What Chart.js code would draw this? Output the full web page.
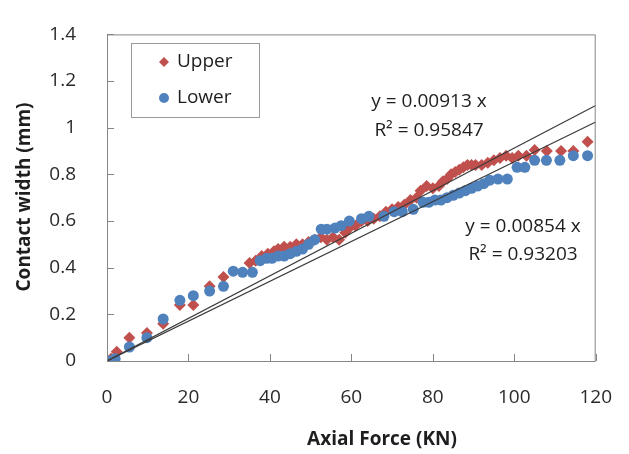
<!DOCTYPE html>
<html>
<head>
<meta charset="utf-8">
<script src="https://cdn.jsdelivr.net/npm/chart.js@4.4.0/dist/chart.umd.min.js"></script>
<style>
  html, body { margin: 0; padding: 0; background: #fff; }
</style>
</head>
<body>
<canvas id="chart" width="629" height="454"></canvas>
<script>
// Upper series (red diamonds)
const upperForce = [0, 1, 2.4, 5.5, 9.8, 13.8, 17.9, 21.2, 25.2, 28.6, 35, 36.5, 38, 39.5, 41, 42, 43.5, 45, 46.5, 48, 49.5, 51, 52.5, 54, 55.5, 57, 58.5, 59.5, 61, 62.5, 64, 65.5, 67, 68.5, 70, 71.5, 73, 74.5, 76, 77, 78.5, 80, 81.5, 82.5, 83.5, 84.5, 85.5, 86.5, 87.5, 88.5, 89.5, 90.5, 92, 93.5, 95, 96.5, 98, 99.5, 101, 103, 105, 108, 111.5, 114.5, 118];
const upperWidth = [0, 0.01, 0.04, 0.10, 0.12, 0.16, 0.24, 0.24, 0.32, 0.36, 0.42, 0.43, 0.45, 0.46, 0.47, 0.48, 0.49, 0.49, 0.50, 0.50, 0.51, 0.52, 0.53, 0.52, 0.53, 0.52, 0.55, 0.57, 0.58, 0.60, 0.60, 0.61, 0.62, 0.64, 0.65, 0.66, 0.67, 0.69, 0.70, 0.73, 0.75, 0.74, 0.75, 0.77, 0.78, 0.80, 0.81, 0.82, 0.83, 0.84, 0.84, 0.84, 0.84, 0.85, 0.86, 0.87, 0.88, 0.87, 0.88, 0.88, 0.905, 0.90, 0.90, 0.90, 0.94];

// Lower series (blue circles)
const lowerForce = [0, 0.5, 1.2, 2, 5.5, 9.8, 13.8, 17.9, 21.2, 25.2, 28.6, 31, 33.3, 35.7, 37.6, 39.2, 40.5, 42, 43.5, 45, 46.5, 48, 49.5, 51, 52.6, 54, 56, 57.5, 59.5, 62.5, 64.3, 68, 70.5, 72.5, 75.2, 77.6, 79, 80.5, 82, 83.5, 85, 86.5, 88, 89.5, 91, 92.5, 94, 96, 98.3, 100.7, 102.6, 105, 107.9, 111.2, 114.5, 118];
const lowerWidth = [0, 0, 0, 0.01, 0.06, 0.10, 0.18, 0.26, 0.28, 0.30, 0.32, 0.385, 0.38, 0.38, 0.43, 0.44, 0.44, 0.45, 0.45, 0.46, 0.47, 0.48, 0.50, 0.52, 0.565, 0.565, 0.57, 0.58, 0.60, 0.61, 0.62, 0.62, 0.64, 0.64, 0.65, 0.68, 0.68, 0.69, 0.69, 0.70, 0.71, 0.72, 0.73, 0.74, 0.75, 0.76, 0.775, 0.78, 0.78, 0.83, 0.83, 0.86, 0.86, 0.86, 0.88, 0.88];

// Linear trendlines through origin
const trendSlopes = [0.00913, 0.00854];
const trendR2 = ['0.95847', '0.93203'];
const xTicks = [0, 20, 40, 60, 80, 100, 120];
const yTicks = [0, 0.2, 0.4, 0.6, 0.8, 1, 1.2, 1.4];

const RED = '#C0504D';
const BLUE = '#4F81BD';
const FONT = '"Open Sans", "Noto Sans", sans-serif';
const TEXT = '#1e1e1e';

const toPoints = (xs, ys) => xs.map((x, i) => ({ x: x, y: ys[i] }));
const xMax = xTicks[xTicks.length - 1];
const trendPoints = slope => [{ x: 0, y: 0 }, { x: xMax, y: slope * xMax }];

// frame, inside tick marks, axis titles, legend and trendline labels
const extras = {
    id: 'extras',
    afterDatasetsDraw(chart) {
        const ctx = chart.ctx;
        const area = chart.chartArea;
        const xs = chart.scales.x;
        const ys = chart.scales.y;
        ctx.save();
        ctx.strokeStyle = '#868686';
        ctx.lineWidth = 1;
        ctx.strokeRect(area.left + 0.5, area.top + 0.5, area.right - area.left - 1, area.bottom - area.top);
        ctx.beginPath();
        yTicks.forEach(v => {
            const py = Math.round(ys.getPixelForValue(v)) + 0.5;
            ctx.moveTo(area.left, py);
            ctx.lineTo(area.left + 7, py);
        });
        xTicks.forEach(v => {
            const px = Math.round(xs.getPixelForValue(v)) + 0.5;
            ctx.moveTo(px, area.bottom);
            ctx.lineTo(px, area.bottom - 7);
        });
        ctx.stroke();

        // axis titles
        ctx.fillStyle = TEXT;
        ctx.font = 'bold 19px ' + FONT;
        ctx.textAlign = 'center';
        ctx.textBaseline = 'middle';
        ctx.fillText('Axial Force (KN)', 382, 440);
        ctx.save();
        ctx.translate(25, 197);
        ctx.rotate(-Math.PI / 2);
        ctx.fillText('Contact width (mm)', 0, 0);
        ctx.restore();

        // legend
        ctx.strokeStyle = '#9a9a9a';
        ctx.strokeRect(131.5, 43.5, 128, 74);
        ctx.fillStyle = RED;
        ctx.beginPath();
        ctx.moveTo(164, 57); ctx.lineTo(169, 62); ctx.lineTo(164, 67); ctx.lineTo(159, 62);
        ctx.closePath();
        ctx.fill();
        ctx.fillStyle = BLUE;
        ctx.beginPath();
        ctx.arc(164, 98, 5, 0, Math.PI * 2);
        ctx.fill();
        ctx.fillStyle = TEXT;
        ctx.font = '19px ' + FONT;
        ctx.textAlign = 'left';
        ctx.fillText('Upper', 177, 62);
        ctx.fillText('Lower', 177, 98);

        // trendline equations
        ctx.textAlign = 'center';
        ctx.fillText('y = ' + trendSlopes[0] + ' x', 429, 102);
        ctx.fillText('R\u00B2 = ' + trendR2[0], 429, 131);
        ctx.fillText('y = ' + trendSlopes[1] + ' x', 523, 227);
        ctx.fillText('R\u00B2 = ' + trendR2[1], 523, 255);
        ctx.restore();
    }
};

const ctx = document.getElementById('chart').getContext('2d');
new Chart(ctx, {
    type: 'scatter',
    data: {
        datasets: [
            {
                label: 'Upper trend',
                type: 'line',
                data: trendPoints(trendSlopes[0]),
                borderColor: '#3c3c3c',
                borderWidth: 1.2,
                pointRadius: 0,
                fill: false,
                order: 0
            },
            {
                label: 'Lower trend',
                type: 'line',
                data: trendPoints(trendSlopes[1]),
                borderColor: '#3c3c3c',
                borderWidth: 1.2,
                pointRadius: 0,
                fill: false,
                order: 0
            },
            {
                label: 'Lower',
                data: toPoints(lowerForce, lowerWidth),
                pointStyle: 'circle',
                pointRadius: 5.5,
                backgroundColor: BLUE,
                borderColor: BLUE,
                borderWidth: 0,
                order: 1
            },
            {
                label: 'Upper',
                data: toPoints(upperForce, upperWidth),
                pointStyle: 'rectRot',
                pointRadius: 6,
                backgroundColor: RED,
                borderColor: RED,
                borderWidth: 0,
                order: 2
            }
        ]
    },
    options: {
        responsive: false,
        animation: false,
        devicePixelRatio: 1,
        layout: { padding: { left: 0, right: 18, top: 19, bottom: 0 } },
        plugins: {
            legend: { display: false },
            tooltip: { enabled: false }
        },
        scales: {
            x: {
                type: 'linear',
                min: 0,
                max: 120,
                afterFit: scale => { scale.height = 93; },
                afterBuildTicks: scale => { scale.ticks = xTicks.map(v => ({ value: v })); },
                grid: { display: false },
                border: { display: false },
                ticks: {
                    color: '#2a2a2a',
                    font: { family: FONT, size: 19 },
                    padding: 17,
                    maxRotation: 0
                }
            },
            y: {
                type: 'linear',
                min: 0,
                max: 1.4,
                afterFit: scale => { scale.width = 107; },
                afterBuildTicks: scale => { scale.ticks = yTicks.map(v => ({ value: v })); },
                grid: { display: false },
                border: { display: false },
                ticks: {
                    color: '#2a2a2a',
                    font: { family: FONT, size: 19 },
                    padding: 23,
                    callback: v => String(+v.toFixed(1))
                }
            }
        }
    },
    plugins: [extras]
});
</script>
</body>
</html>
